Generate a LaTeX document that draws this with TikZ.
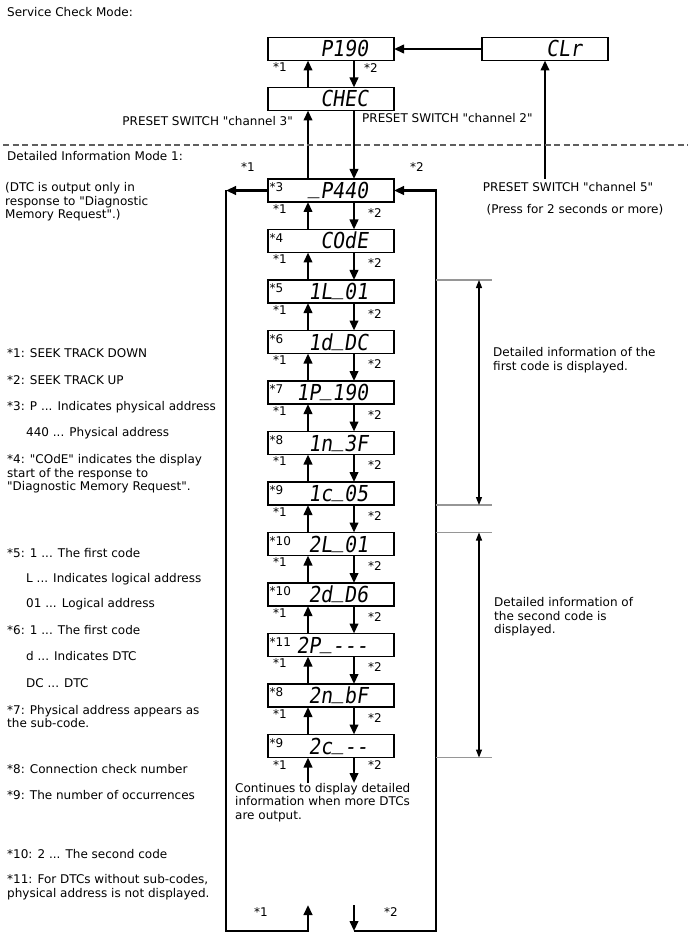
\documentclass[tikz,border=0pt]{standalone}
\usepackage{fontspec}
\defaultfontfeatures[\rmfamily]{}
\setmainfont{DejaVu Sans}
\newfontfamily\lcdfont{DejaVu Sans Mono}[FakeStretch=0.9,FakeSlant=0.15]
\usepackage{tikz}
\usetikzlibrary{positioning,arrows.meta}
\definecolor{sepgray}{RGB}{150,150,150}
\definecolor{dashgray}{RGB}{95,95,95}
\newcommand{\segbar}{\raisebox{5pt}{\_}}

\begin{document}
\begin{tikzpicture}[
  x=1pt, y=-1pt,
  font=\fontsize{12}{13.5}\selectfont,
  node distance=27.5pt,
  disp/.style={draw, line width=1.3pt, outer sep=0pt, inner sep=0pt,
               minimum width=126pt, minimum height=23pt,
               text width=74pt, text height=16pt, text depth=0pt,
               align=right, font=\lcdfont\fontsize{22}{22}\selectfont},
  tag/.style={anchor=north west, inner sep=0pt, xshift=1.5pt, yshift=-3.5pt,
              font=\normalfont\fontsize{12}{13.5}\selectfont},
  arr/.style={-{Triangle[length=10pt,width=8.5pt]}, line width=2.2pt},
  loopln/.style={line width=2.6pt},
  dim/.style={{Triangle[length=8pt,width=6pt]}-{Triangle[length=8pt,width=6pt]}, line width=1.1pt},
  sepline/.style={draw=sepgray, line width=1.3pt},
  dashln/.style={draw=dashgray, line width=1.4pt, dash pattern=on 6pt off 3.5pt},
  note/.style={anchor=west, inner sep=0pt, align=left},
  n1/.style={pos=0.75, xshift=-28pt, inner sep=0pt},
  n2/.style={pos=0.4, xshift=21pt, inner sep=0pt}
]
\path[fill=white, use as bounding box] (0,0) rectangle (688,949);

\node[note] (hdr1) at (7,12) {Service Check Mode:};
\node[disp] (p190) at (331,49) {P190};
\node[disp] (clr)  at (545,49) {CLr};
\node[disp, below=27pt of p190] (chec) {CHEC};

\node[disp, label={[tag]north west:*3}] (p440) at (331,190.5) {\segbar P440};
\node[disp, below=of p440,  label={[tag]north west:*4}]  (code)  {COdE};
\node[disp, below=of code,  label={[tag]north west:*5}]  (ladr1) {1L\segbar 01};
\node[disp, below=of ladr1, label={[tag]north west:*6}]  (dtc1)  {1d\segbar DC};
\node[disp, below=of dtc1,  label={[tag]north west:*7}]  (sub1)  {1P\segbar 190};
\node[disp, below=of sub1,  label={[tag]north west:*8}]  (conn1) {1n\segbar 3F};
\node[disp, below=of conn1, label={[tag]north west:*9}]  (occ1)  {1c\segbar 05};
\node[disp, below=of occ1,  label={[tag]north west:*10}] (ladr2) {2L\segbar 01};
\node[disp, below=of ladr2, label={[tag]north west:*10}] (dtc2)  {2d\segbar D6};
\node[disp, below=of dtc2,  label={[tag]north west:*11}] (sub2)  {2P\segbar -{}-{}-};
\node[disp, below=of sub2,  label={[tag]north west:*8}]  (conn2) {2n\segbar bF};
\node[disp, below=of conn2, label={[tag]north west:*9}]  (occ2)  {2c\segbar -{}-};

\coordinate (ux) at (308,0);
\coordinate (dx) at (354,0);

\draw[arr] (clr) -- (p190);
\draw[arr] (chec.north -| ux) -- node[n1] (u0) {*1} (p190.south -| ux);
\draw[arr] (p190.south -| dx) -- node[pos=0.28, xshift=17pt, inner sep=0pt] (d0) {*2} (chec.north -| dx);
\draw[arr] (p440.north -| ux) -- (chec.south -| ux);
\draw[arr] (chec.south -| dx) -- (p440.north -| dx);

\draw[arr] (code.north -| ux)  -- node[n1] (u1) {*1}  (p440.south -| ux);
\draw[arr] (p440.south -| dx)  -- node[n2] (d1) {*2}  (code.north -| dx);
\draw[arr] (ladr1.north -| ux) -- node[n1] (u2) {*1}  (code.south -| ux);
\draw[arr] (code.south -| dx)  -- node[n2] (d2) {*2}  (ladr1.north -| dx);
\draw[arr] (dtc1.north -| ux)  -- node[n1] (u3) {*1}  (ladr1.south -| ux);
\draw[arr] (ladr1.south -| dx) -- node[n2] (d3) {*2}  (dtc1.north -| dx);
\draw[arr] (sub1.north -| ux)  -- node[n1] (u4) {*1}  (dtc1.south -| ux);
\draw[arr] (dtc1.south -| dx)  -- node[n2] (d4) {*2}  (sub1.north -| dx);
\draw[arr] (conn1.north -| ux) -- node[n1] (u5) {*1}  (sub1.south -| ux);
\draw[arr] (sub1.south -| dx)  -- node[n2] (d5) {*2}  (conn1.north -| dx);
\draw[arr] (occ1.north -| ux)  -- node[n1] (u6) {*1}  (conn1.south -| ux);
\draw[arr] (conn1.south -| dx) -- node[n2] (d6) {*2}  (occ1.north -| dx);
\draw[arr] (ladr2.north -| ux) -- node[n1] (u7) {*1}  (occ1.south -| ux);
\draw[arr] (occ1.south -| dx)  -- node[n2] (d7) {*2}  (ladr2.north -| dx);
\draw[arr] (dtc2.north -| ux)  -- node[n1] (u8) {*1}  (ladr2.south -| ux);
\draw[arr] (ladr2.south -| dx) -- node[n2] (d8) {*2}  (dtc2.north -| dx);
\draw[arr] (sub2.north -| ux)  -- node[n1] (u9) {*1}  (dtc2.south -| ux);
\draw[arr] (dtc2.south -| dx)  -- node[n2] (d9) {*2}  (sub2.north -| dx);
\draw[arr] (conn2.north -| ux) -- node[n1] (u10) {*1} (sub2.south -| ux);
\draw[arr] (sub2.south -| dx)  -- node[n2] (d10) {*2} (conn2.north -| dx);
\draw[arr] (occ2.north -| ux)  -- node[n1] (u11) {*1} (conn2.south -| ux);
\draw[arr] (conn2.south -| dx) -- node[n2] (d11) {*2} (occ2.north -| dx);

\node[note, anchor=north west] (cont) at (235,783) {Continues to display detailed\\information when more DTCs\\are output.};
\draw[arr] (cont.north -| ux) -- node[n1, pos=0.7] (u12) {*1} (occ2.south -| ux);
\draw[arr] (occ2.south -| dx) -- node[n2, pos=0.3] (d12) {*2} (cont.north -| dx);

\coordinate (lft)  at (226,190.5);
\coordinate (rgt)  at (436,190.5);
\coordinate (lbot) at (226,931);
\coordinate (rbot) at (436,931);
\coordinate (uend) at (308,905);
\coordinate (dend) at (354,905);
\draw[arr, loopln] (p440.west) -- (lft);
\draw[arr, loopln] (lft) -- (lbot) -| (uend);
\draw[arr] (dend) -- (dend |- rbot);
\draw[arr, loopln] (dend |- rbot) -- (rbot) -- (rgt) -- (p440.east);

\node (s1top) at (248,167) {*1};
\node (s2top) at (417,167) {*2};
\node (s1bot) at (261,912) {*1};
\node (s2bot) at (391,912) {*2};

\node[note, anchor=east] (sw3) at (293,121) {PRESET SWITCH "channel 3"};
\node[note] (sw2) at (362,118) {PRESET SWITCH "channel 2"};
\node (sw5)  at (568,187) {PRESET SWITCH "channel 5"};
\node (hold) at (575,210) {(Press for 2 seconds or more)};
\draw[arr] (clr.south |- sw5.north) -- (clr.south);

\coordinate (dl) at (3,145);
\coordinate (dr) at (688,145);
\draw[dashln] (dl) -- (dr);
\node[note] (hdr2) at (7,156) {Detailed Information Mode 1:};

\coordinate (mx) at (492,0);
\coordinate (ax) at (479,0);
\draw[sepline] (ladr1.north -| rgt) -- (ladr1.north -| mx);
\draw[sepline] (occ1.south -| rgt)  -- (occ1.south -| mx);
\draw[sepline] (ladr2.north -| rgt) -- (ladr2.north -| mx);
\draw[sepline] (occ2.south -| rgt)  -- (occ2.south -| mx);
\draw[dim] (ladr1.north -| ax) -- (occ1.south -| ax);
\draw[dim] (ladr2.north -| ax) -- (occ2.south -| ax);
\node[note] (info1) at (493,360) {Detailed information of the\\first code is displayed.};
\node[note] (info2) at (494,617) {Detailed information of\\the second code is\\displayed.};

\node[note] (dtcreq) at (5,202) {(DTC is output only in\\response to "Diagnostic\\Memory Request".)};
\node[note] (f1)  at (7,353)   {*1: SEEK TRACK DOWN};
\node[note] (f2)  at (7,380)   {*2: SEEK TRACK UP};
\node[note] (f3)  at (7,407)   {*3: P ... Indicates physical address};
\node[note] (f3b) at (26,433)  {440 ... Physical address};
\node[note] (f4)  at (7,474)   {*4: "COdE" indicates the display\\start of the response to\\"Diagnostic Memory Request".};
\node[note] (f5)  at (7,553)   {*5: 1 ... The first code};
\node[note] (f5b) at (26,579)  {L ... Indicates logical address};
\node[note] (f5c) at (26,604)  {01 ... Logical address};
\node[note] (f6)  at (7,630)   {*6: 1 ... The first code};
\node[note] (f6b) at (26,656)  {d ... Indicates DTC};
\node[note] (f6c) at (26,683)  {DC ... DTC};
\node[note] (f7)  at (7,716.5) {*7: Physical address appears as\\the sub-code.};
\node[note] (f8)  at (7,769)   {*8: Connection check number};
\node[note] (f9)  at (7,795)   {*9: The number of occurrences};
\node[note] (f10) at (7,854)   {*10: 2 ... The second code};
\node[note] (f11) at (7,887)   {*11: For DTCs without sub-codes,\\physical address is not displayed.};
\end{tikzpicture}
\end{document}
